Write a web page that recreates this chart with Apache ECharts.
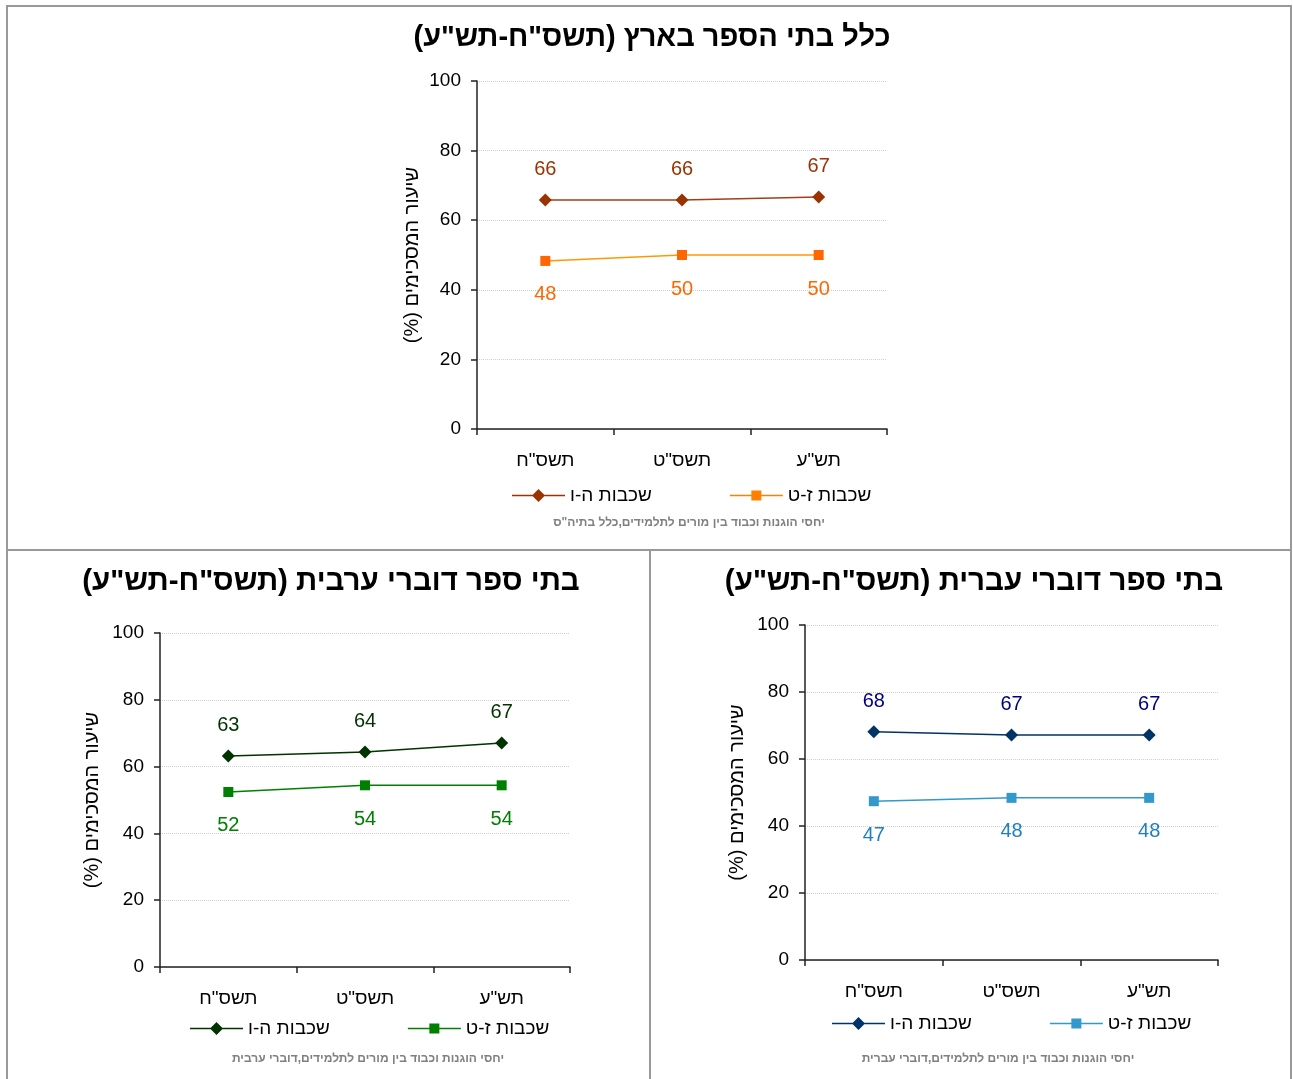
<!DOCTYPE html>
<html>
<head>
<meta charset="utf-8">
<script src="https://cdn.jsdelivr.net/npm/echarts@6/dist/echarts.min.js"></script>
<style>
html,body{margin:0;padding:0;background:#fff;}
#c{width:1293px;height:1079px;}
</style>
</head>
<body>
<div id="c"></div>
<script>
// ---- data ----
var categories = ['תשס"ח', 'תשס"ט', 'תש"ע'];
var seriesNames = ['שכבות ה-ו', 'שכבות ז-ט'];
var yTicks = [0, 20, 40, 60, 80, 100];

var titles = [
  'כלל בתי הספר בארץ (תשס"ח-תש"ע)',
  'בתי ספר דוברי ערבית (תשס"ח-תש"ע)',
  'בתי ספר דוברי עברית (תשס"ח-תש"ע)'
];
var subtitles = [
  'יחסי הוגנות וכבוד בין מורים לתלמידים,כלל בתיה"ס',
  'יחסי הוגנות וכבוד בין מורים לתלמידים,דוברי ערבית',
  'יחסי הוגנות וכבוד בין מורים לתלמידים,דוברי עברית'
];
var yAxisName = 'שיעור המסכימים (%)';

// all schools
var allLow = [65.8, 65.8, 66.7];   // grades 5-6
var allHigh = [48.3, 50.0, 50.0];  // grades 7-9
// Arabic-speaking
var arLow = [63.2, 64.4, 67.1];
var arHigh = [52.4, 54.4, 54.4];
// Hebrew-speaking
var heLow = [68.1, 67.2, 67.2];
var heHigh = [47.4, 48.4, 48.4];

// ---- layout / style ----
var FONT = "Arial, 'Liberation Sans', 'DejaVu Sans', sans-serif";
function rtl(s) { return '\u202B' + s + '\u202C'; }
function zw(n) { var s = ''; for (var j = 0; j < n; j++) s += '\u200B'; return s; }

// legend icons: line + marker (bounding box 53 x 14)
var BOX = 'M0,0 L53,0 L0,0 Z M0,14 L53,14 L0,14 Z ';
var ICON_DIAMOND = 'path://' + BOX +
  'M0,6.25 L20.75,6.25 L26.5,0.5 L32.25,6.25 L53,6.25 L53,7.75 L32.25,7.75 L26.5,13.5 L20.75,7.75 L0,7.75 Z';
var ICON_SQUARE = 'path://' + BOX +
  'M0,6.25 L21.5,6.25 L21.5,2 L31.5,2 L31.5,6.25 L53,6.25 L53,7.75 L31.5,7.75 L31.5,12 L21.5,12 L21.5,7.75 L0,7.75 Z';

var panels = [
  { grid: {left: 477, top: 81, width: 410, height: 348}, nameGap: 55,
    title: {x: 652, y: 38, size: 29}, sub: {x: 689, y: 523}, legend: {left: 512, y: 493},
    data: [allLow, allHigh],
    colors: [{line: '#A0401A', mark: '#993300', label: '#993300', legend: '#993300'},
             {line: '#FF9900', mark: '#FF6600', label: '#FF6600', legend: '#FF8000'}] },
  { grid: {left: 160, top: 633, width: 410, height: 334}, nameGap: 58,
    title: {x: 331, y: 582, size: 29.5}, sub: {x: 368, y: 1059}, legend: {left: 190, y: 1026},
    data: [arLow, arHigh],
    colors: [{line: '#003300', mark: '#003300', label: '#003300', legend: '#003300'},
             {line: '#008000', mark: '#008000', label: '#008000', legend: '#008000'}] },
  { grid: {left: 805, top: 625, width: 413, height: 335}, nameGap: 58,
    title: {x: 974, y: 582, size: 29.5}, sub: {x: 998, y: 1059}, legend: {left: 832, y: 1021},
    data: [heLow, heHigh],
    colors: [{line: '#003366', mark: '#003366', label: '#000080', legend: '#003366'},
             {line: '#3399CC', mark: '#3399CC', label: '#1F7FC0', legend: '#3399CC'}] }
];

var option = {
  animation: false,
  backgroundColor: '#fff',
  title: [], legend: [], grid: [], xAxis: [], yAxis: [], series: [],
  graphic: [
    {type: 'rect', shape: {x: 7, y: 6, width: 1284, height: 1100},
     style: {fill: 'none', stroke: '#999', lineWidth: 2}, z: 100},
    {type: 'line', shape: {x1: 7, y1: 550, x2: 1291, y2: 550},
     style: {stroke: '#999', lineWidth: 2}, z: 100},
    {type: 'line', shape: {x1: 650, y1: 550, x2: 650, y2: 1079},
     style: {stroke: '#999', lineWidth: 2}, z: 100}
  ]
};

panels.forEach(function (p, i) {
  option.title.push({
    text: rtl(titles[i]), left: p.title.x, top: p.title.y,
    textAlign: 'center', textVerticalAlign: 'middle', padding: 0,
    textStyle: {fontFamily: FONT, fontSize: p.title.size, fontWeight: 'bold', color: '#000'}
  });
  option.title.push({
    text: subtitles[i], left: p.sub.x, top: p.sub.y,
    textAlign: 'center', textVerticalAlign: 'middle', padding: 0,
    textStyle: {fontFamily: FONT, fontSize: 12, fontWeight: 'bold', color: '#808080'}
  });
  option.grid.push(p.grid);
  option.xAxis.push({
    type: 'category', gridIndex: i, data: categories, boundaryGap: true,
    axisLine: {lineStyle: {color: '#222', width: 1.5}},
    axisTick: {show: true, length: 6, lineStyle: {color: '#222', width: 1.5}},
    axisLabel: {margin: 22, fontFamily: FONT, fontSize: 19, color: '#000'},
    splitLine: {show: false}
  });
  option.yAxis.push({
    type: 'value', gridIndex: i, min: 0, max: 100, interval: 20,
    name: rtl(yAxisName), nameLocation: 'middle', nameGap: p.nameGap, nameRotate: 90,
    nameTextStyle: {fontFamily: FONT, fontSize: 20, color: '#000'},
    axisLine: {show: true, lineStyle: {color: '#222', width: 1.5}},
    axisTick: {show: true, length: 6, lineStyle: {color: '#222', width: 1.5}},
    axisLabel: {margin: 16, fontFamily: FONT, fontSize: 19, color: '#000',
      formatter: function (v) { return yTicks.indexOf(v) >= 0 ? String(v) : ''; }},
    splitLine: {show: true, lineStyle: {color: '#cfcfcf', type: 'dotted', width: 1}}
  });
  var legendData = [];
  [0, 1].forEach(function (k) {
    var c = p.colors[k];
    var nm = seriesNames[k] + zw(i);
    legendData.push({name: nm, icon: k === 0 ? ICON_DIAMOND : ICON_SQUARE,
      itemStyle: {color: c.legend, borderWidth: 0}});
    option.series.push({
      type: 'line', name: nm, xAxisIndex: i, yAxisIndex: i,
      data: p.data[k],
      symbol: k === 0 ? 'diamond' : 'rect',
      symbolSize: k === 0 ? 13 : 10,
      lineStyle: {color: c.line, width: 1.5},
      itemStyle: {color: c.mark},
      label: {show: true, position: k === 0 ? 'top' : 'bottom', distance: k === 0 ? 14 : 19,
        fontFamily: FONT, fontSize: 20, color: c.label,
        formatter: function (pp) { return String(Math.round(pp.value)); }}
    });
  });
  option.legend.push({
    data: legendData, left: p.legend.left, top: p.legend.y - 7, padding: 0,
    orient: 'horizontal', itemWidth: 53, itemHeight: 14, itemGap: 78,
    itemStyle: {borderWidth: 0},
    textStyle: {fontFamily: FONT, fontSize: 19, color: '#000'},
    formatter: function (n) { return n.replace(/\u200B/g, ''); },
    selectedMode: false
  });
});

var chart = echarts.init(document.getElementById('c'), null, {renderer: 'canvas'});
chart.setOption(option);
</script>
</body>
</html>
